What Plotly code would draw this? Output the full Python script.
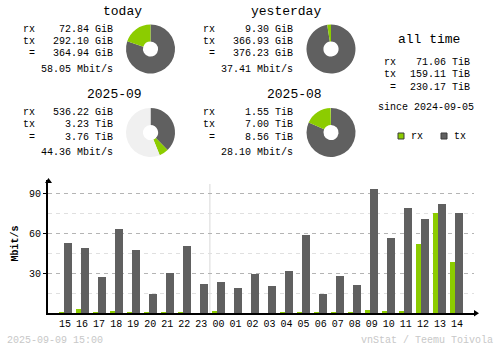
import plotly.graph_objects as go

# ---- data -------------------------------------------------------------
hours = ["15", "16", "17", "18", "19", "20", "21", "22", "23", "00", "01", "02",
         "03", "04", "05", "06", "07", "08", "09", "10", "11", "12", "13", "14"]
rx_mbit = [1.0, 3.2, 1.0, 1.8, 1.0, 1.0, 0.3, 1.0, 0.2, 1.8, 0.2, 0.2,
           0.2, 1.0, 1.0, 1.0, 1.0, 1.0, 2.5, 1.8, 1.8, 52.0, 75.0, 38.5]
tx_mbit = [52.8, 49.0, 27.3, 63.3, 47.5, 14.5, 30.3, 50.5, 22.0, 23.5, 19.0, 29.5,
           20.5, 31.8, 58.8, 14.5, 28.0, 21.3, 93.3, 56.5, 79.0, 70.8, 82.0, 75.3]

# summary panels: title, rx, tx, total, rate
panel_titles = ["today", "yesterday", "2025-09", "2025-08"]
panel_rx = ["72.84 GiB", "9.30 GiB", "536.22 GiB", "1.55 TiB"]
panel_tx = ["292.10 GiB", "366.93 GiB", "3.23 TiB", "7.00 TiB"]
panel_total = ["364.94 GiB", "376.23 GiB", "3.76 TiB", "8.56 TiB"]
panel_rate = ["58.05 Mbit/s", "37.41 Mbit/s", "44.36 Mbit/s", "28.10 Mbit/s"]

# pie values in a common unit per panel (GiB for days, TiB for months)
pie_rx = [72.84, 9.30, 536.22 / 1024, 1.55]
pie_tx = [292.10, 366.93, 3.23, 7.00]
pie_scale = [364.94, 376.23, 8.56, 8.56]  # current month is drawn against last month

alltime_rx = "71.06 TiB"
alltime_tx = "159.11 TiB"
alltime_total = "230.17 TiB"
since_date = "2024-09-05"
timestamp = "2025-09-09 15:00"

# ---- style ------------------------------------------------------------
W, H = 500, 348
MONO = "Liberation Mono, DejaVu Sans Mono, monospace"
RX_C = "#8ccc00"
TX_C = "#606060"
EMPTY_C = "#f0f0f0"


def px(x):
    return x / W


def py(y):
    return 1 - y / H


fig = go.Figure()

# hourly bars
fig.add_trace(go.Bar(x=list(range(len(hours))), y=rx_mbit, width=0.29, offset=-0.38,
                     marker=dict(color=RX_C, line=dict(width=0)), name="rx"))
fig.add_trace(go.Bar(x=list(range(len(hours))), y=tx_mbit, width=0.47, offset=-0.09,
                     marker=dict(color=TX_C, line=dict(width=0)), name="tx"))

# donut charts
pie_centers = [(150.5, 49), (331, 49), (150.5, 132.5), (331, 132.5)]
R = 24.5
for i, (cx, cy) in enumerate(pie_centers):
    rest = max(pie_scale[i] - pie_rx[i] - pie_tx[i], 0)
    fig.add_trace(go.Pie(
        values=[pie_tx[i], pie_rx[i], rest],
        labels=["tx", "rx", ""],
        marker=dict(colors=[TX_C, RX_C, EMPTY_C], line=dict(width=0)),
        sort=False, direction="clockwise", rotation=0, hole=0.31,
        textinfo="none", showlegend=False,
        domain=dict(x=[px(cx - R), px(cx + R)], y=[py(cy + R), py(cy - R)]),
    ))

ann = []


def text(x, y, s, size=10, xanchor="left", color="black", **kw):
    ann.append(dict(x=px(x), y=py(y), xref="paper", yref="paper", text=s,
                    showarrow=False, xanchor=xanchor, yanchor="middle",
                    font=dict(family=MONO, size=size, color=color), **kw))


# panel texts
offsets = [(0, 0), (180, 0), (0, 83), (180, 83)]
title_x = [122, 286, 114, 294.5]
for i, (dx, dy) in enumerate(offsets):
    text(title_x[i], 11 + dy, panel_titles[i], size=13, xanchor="center")
    text(37 + dx, 29 + dy, "rx", xanchor="right")
    text(37 + dx, 41 + dy, "tx", xanchor="right")
    text(37 + dx, 54 + dy, "=", xanchor="right")
    text(115 + dx, 29 + dy, panel_rx[i], xanchor="right")
    text(115 + dx, 41 + dy, panel_tx[i], xanchor="right")
    text(115 + dx, 54 + dy, panel_total[i], xanchor="right")
    text(115 + dx, 69 + dy, panel_rate[i], xanchor="right")

# all time block
text(428.5, 40, "all time", size=13, xanchor="center")
text(398, 63, "rx", xanchor="right")
text(398, 74.5, "tx", xanchor="right")
text(398, 87, "=", xanchor="right")
text(472, 63, alltime_rx, xanchor="right")
text(472, 74.5, alltime_tx, xanchor="right")
text(472, 87, alltime_total, xanchor="right")
text(426, 108, "since " + since_date, xanchor="center")

# legend
text(409, 136, "rx")
text(452, 136, "tx")

# axis title and footer
text(15, 243.5, "<b>Mbit/s</b>", xanchor="center", textangle=-90)
text(5, 340, timestamp, color="#c8c8c8")
text(495, 340, "vnStat / Teemu Toivola", xanchor="right", color="#c8c8c8")

shapes = [
    dict(type="rect", xref="paper", yref="paper", x0=px(398), x1=px(404), y0=py(139), y1=py(133),
         fillcolor=RX_C, line=dict(color="#3a3a3a", width=1)),
    dict(type="rect", xref="paper", yref="paper", x0=px(441), x1=px(447), y0=py(139), y1=py(133),
         fillcolor=TX_C, line=dict(color="#3a3a3a", width=1)),
    # day boundary
    dict(type="line", xref="x", yref="y", x0=8.5, x1=8.5, y0=0, y1=97,
         line=dict(color="#d8d8d8", width=1), layer="below"),
    # axis arrow heads
    dict(type="path", xref="paper", yref="paper",
         path=f"M {px(45)} {py(183)} L {px(48.5)} {py(178)} L {px(52)} {py(183)} Z",
         fillcolor="black", line=dict(color="black", width=0)),
    dict(type="path", xref="paper", yref="paper",
         path=f"M {px(474)} {py(310)} L {px(479)} {py(313.3)} L {px(474)} {py(316.6)} Z",
         fillcolor="black", line=dict(color="black", width=0)),
]

fig.update_layout(
    width=W, height=H, margin=dict(l=0, r=0, t=0, b=0),
    paper_bgcolor="white", plot_bgcolor="white",
    barmode="overlay", showlegend=False, bargap=0,
    annotations=ann, shapes=shapes,
    font=dict(family=MONO, size=10, color="black"),
    xaxis=dict(domain=[px(48), px(474)], range=[-1, 24],
               tickmode="array", tickvals=list(range(len(hours))), ticktext=hours,
               showgrid=False, zeroline=False, showline=True, linecolor="black", linewidth=2,
               ticks="", tickfont=dict(family=MONO, size=10, color="black")),
    yaxis=dict(domain=[py(313.3), py(180)], range=[0, 100],
               tickmode="array", tickvals=[30, 60, 90],
               showgrid=True, gridcolor="#b4b4b4", griddash="4px,4px", gridwidth=1,
               minor=dict(tickmode="array", tickvals=[15, 45, 75], showgrid=True,
                          gridcolor="#e0e0e0", griddash="4px,4px", ticks=""),
               zeroline=False, showline=True, linecolor="black", linewidth=2,
               ticks="outside", ticklen=3, tickcolor="black",
               tickfont=dict(family=MONO, size=10, color="black")),
)

fig.write_html("out.html")
